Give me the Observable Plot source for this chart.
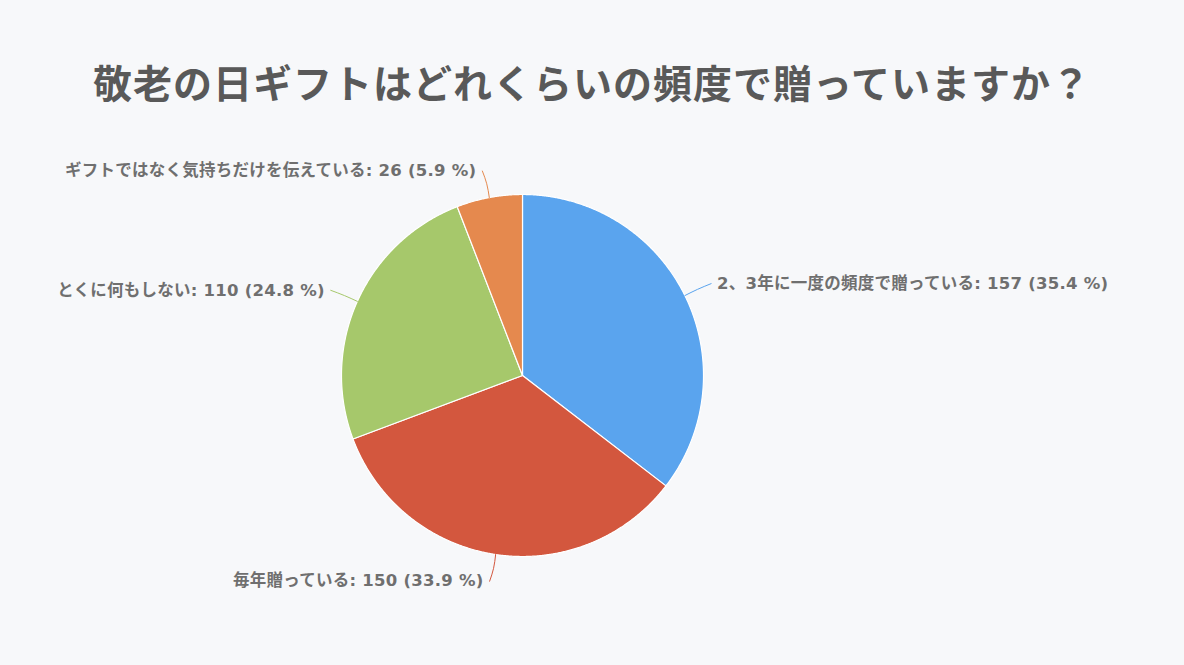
<!DOCTYPE html>
<html><head><meta charset="utf-8">
<script src="https://cdn.jsdelivr.net/npm/d3@7"></script>
<script src="https://cdn.jsdelivr.net/npm/@observablehq/plot@0.6"></script>
<style>
html,body{margin:0;padding:0;background:#f7f8fa;}
#title{height:130px;box-sizing:border-box;padding-top:58px;text-align:center;font-family:"Noto Sans CJK JP",sans-serif;font-weight:700;font-size:39px;line-height:46px;color:#595959;letter-spacing:1px;}
#chart svg{display:block;}
</style></head>
<body>
<div id="title">敬老の日ギフトはどれくらいの頻度で贈っていますか？</div>
<div id="chart"></div>
<script>
// data
const categories = ["2、3年に一度の頻度で贈っている", "毎年贈っている", "とくに何もしない", "ギフトではなく気持ちだけを伝えている"];
const values = [157, 150, 110, 26];
const colors = ["#5aa4ee", "#d3573e", "#a6c86b", "#e5894e"];

// layout
const W = 1184, H = 535, TOP = 130;
const cx = 522, cy = 375, R = 181, LR = 208;

const total = d3.sum(values);
const pie = d3.pie().sort(null).value(d => d)(values);

const slicePts = [];
const leaderPts = [];
const labels = [];
pie.forEach((p, i) => {
  const cat = categories[i];
  const pt = (a, r) => ({x: cx + r * Math.sin(a), y: cy - r * Math.cos(a), cat});
  slicePts.push({...pt(0, 0), cat});
  const n = Math.max(2, Math.ceil((p.endAngle - p.startAngle) / 0.005));
  for (let k = 0; k <= n; k++) slicePts.push(pt(p.startAngle + (p.endAngle - p.startAngle) * k / n, R));
  slicePts.push({...pt(0, 0), cat});
  const m = (p.startAngle + p.endAngle) / 2;
  const side = Math.sin(m) >= 0 ? 1 : -1;
  const e0 = pt(m, R), e1 = pt(m, R + 14), e2 = pt(m, LR);
  const e3 = {x: e2.x + side * 2, y: e2.y, cat};
  leaderPts.push(e0, e1, e3);
  const pct = (values[i] / total * 100).toFixed(1);
  labels.push({x: e3.x + side * 6, y: e3.y, anchor: side > 0 ? "start" : "end",
    text: `${cat}: ${values[i]} (${pct} %)`});
});

const labelFont = "'DejaVu Sans', 'Noto Sans CJK JP', sans-serif";
const plot = Plot.plot({
  width: W, height: H, margin: 0,
  x: {domain: [0, W], range: [0, W], axis: null},
  y: {domain: [TOP, TOP + H], range: [0, H], axis: null},
  color: {domain: categories, range: colors},
  style: {background: "transparent", fontFamily: labelFont, letterSpacing: "0.25px"},
  marks: [
    Plot.line(slicePts, {x: "x", y: "y", z: "cat", fill: "cat", stroke: "white", strokeWidth: 1.2, curve: "linear"}),
    Plot.line(leaderPts, {x: "x", y: "y", z: "cat", stroke: "cat", strokeWidth: 1, curve: "natural"}),
    Plot.text(labels.filter(d => d.anchor === "start"), {x: "x", y: "y", text: "text", textAnchor: "start", fill: "#6f6f6f", fontSize: 16.5, fontWeight: 700}),
    Plot.text(labels.filter(d => d.anchor === "end"), {x: "x", y: "y", text: "text", textAnchor: "end", fill: "#6f6f6f", fontSize: 16.5, fontWeight: 700})
  ]
});
document.getElementById("chart").appendChild(plot);
</script>
</body></html>
